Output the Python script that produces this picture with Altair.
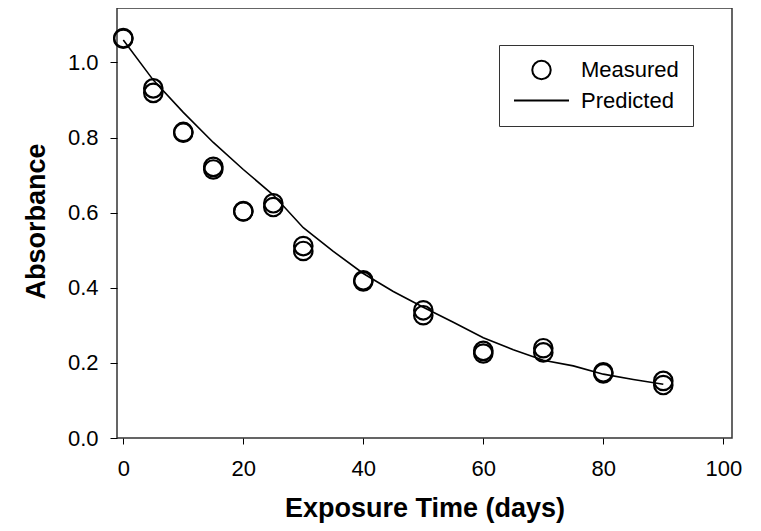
import altair as alt
import pandas as pd

# Measured absorbance (two replicates per exposure time)
meas_t = [0, 0, 5, 5, 10, 10, 15, 15, 20, 20, 25, 25, 30, 30,
          40, 40, 50, 50, 60, 60, 70, 70, 80, 80, 90, 90]
meas_a = [1.065, 1.063, 0.931, 0.919, 0.815, 0.813, 0.722, 0.715, 0.604, 0.603,
          0.625, 0.615, 0.511, 0.498, 0.420, 0.417, 0.340, 0.327, 0.232, 0.225,
          0.239, 0.228, 0.175, 0.172, 0.152, 0.141]

# Predicted curve
pred_t = [0, 5, 10, 15, 20, 25, 30, 35, 40, 45, 50, 55, 60, 65, 70, 75, 80, 85, 90]
pred_a = [1.060, 0.953, 0.867, 0.787, 0.715, 0.647, 0.560, 0.497, 0.438, 0.390,
          0.348, 0.308, 0.267, 0.235, 0.207, 0.192, 0.170, 0.156, 0.143]

series_names = ["Measured", "Predicted"]
x_ticks = [0, 20, 40, 60, 80, 100]
y_ticks = [0.0, 0.2, 0.4, 0.6, 0.8, 1.0]

meas = pd.DataFrame({"t": meas_t, "a": meas_a, "series": series_names[0]})
pred = pd.DataFrame({"t": pred_t, "a": pred_a})

FONT = "Liberation Sans"

xs = alt.Scale(domain=[-1.05, 101.45], nice=False, zero=False)
ys = alt.Scale(domain=[0, 1.145], nice=False, zero=False)

x_axis = alt.Axis(values=x_ticks, format="d", grid=False, domain=False,
                  tickSize=6, tickColor="black", tickWidth=1,
                  labelFont=FONT, labelFontSize=22, labelColor="black", labelPadding=14,
                  title="Exposure Time (days)", titleFont=FONT, titleFontSize=27,
                  titleFontWeight="bold", titleColor="black",
                  titleBaseline="middle", titleY=70)
y_axis = alt.Axis(values=y_ticks, format=".1f", grid=False, domain=False,
                  tickSize=7, tickColor="black", tickWidth=1,
                  labelFont=FONT, labelFontSize=22, labelColor="black", labelPadding=12,
                  title="Absorbance", titleFont=FONT, titleFontSize=27,
                  titleFontWeight="bold", titleColor="black",
                  titleAngle=270, titleAlign="center", titleBaseline="middle",
                  titleX=-81, titleY=213)

line = alt.Chart(pred).mark_line(color="black", strokeWidth=1.6).encode(
    x=alt.X("t:Q", scale=xs, axis=x_axis),
    y=alt.Y("a:Q", scale=ys, axis=y_axis),
)

legend = alt.Legend(orient="none", legendX=382, legendY=37, title=None,
                    strokeColor="#333", padding=14,
                    labelFont=FONT, labelFontSize=22, labelColor="black",
                    labelOffset=11, rowPadding=8.6, clipHeight=22,
                    symbolStrokeColor="black", symbolStrokeWidth=2,
                    symbolFillColor="transparent")

pts = alt.Chart(meas).mark_point(filled=False, color="black", strokeWidth=2.2,
                                 opacity=1).encode(
    x=alt.X("t:Q", scale=xs),
    y=alt.Y("a:Q", scale=ys),
    shape=alt.Shape("series:N",
                    scale=alt.Scale(type="ordinal", domain=series_names,
                                    range=["circle", "M-1,0L1,0"]),
                    legend=legend),
    size=alt.Size("series:N",
                  scale=alt.Scale(type="ordinal", domain=series_names,
                                  range=[340, 3025]),
                  legend=legend),
)

chart = (line + pts).properties(
    width=615, height=430,
    padding={"left": 109, "top": 0, "right": 10, "bottom": 85},
    autosize=alt.AutoSizeParams(type="none"),
).configure_view(stroke="#333", strokeWidth=1.5)

chart.save("out.html", embed_options={"renderer": "svg", "actions": False})
